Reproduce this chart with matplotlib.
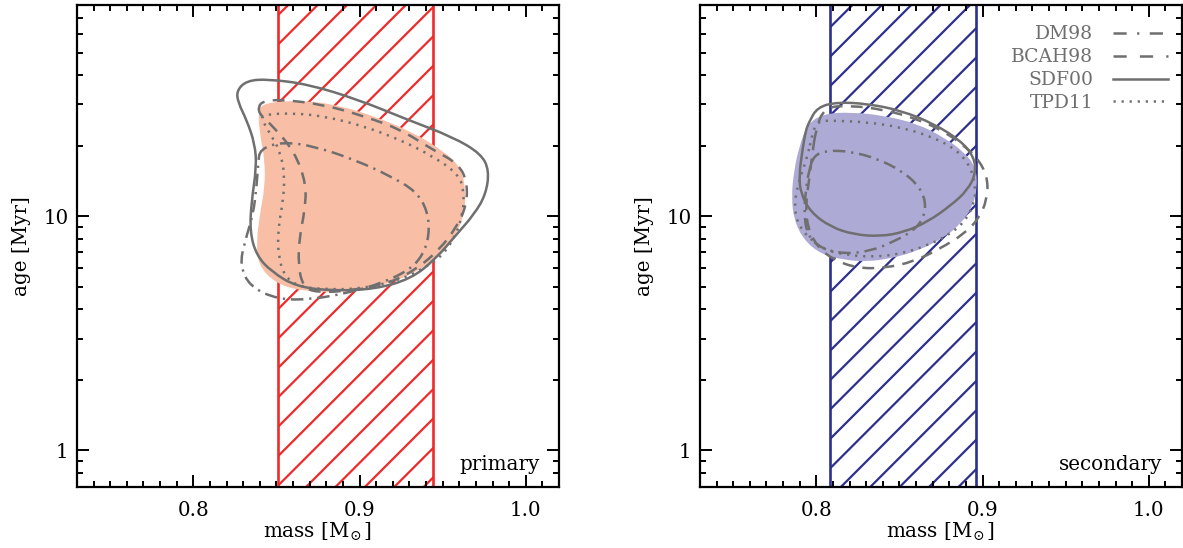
import numpy as np
import matplotlib
matplotlib.use("Agg")
import matplotlib.pyplot as plt
from matplotlib.path import Path
from matplotlib.patches import PathPatch
from matplotlib.lines import Line2D
from matplotlib.ticker import MultipleLocator, LogLocator, NullFormatter

plt.rcParams['font.family'] = ['DejaVu Serif']
plt.rcParams['mathtext.fontset'] = 'dejavuserif'
plt.rcParams['lines.scale_dashes'] = False

# ---------------- data ----------------
models = ["DM98", "BCAH98", "SDF00", "TPD11"]

# dynamical mass ranges (hatched bands)
primary_mass_range = (0.851, 0.944)
secondary_mass_range = (0.808, 0.896)

# primary: combined constraint (filled)
prim_fill_mass = [0.841, 0.853, 0.871, 0.889, 0.909, 0.931, 0.950, 0.961, 0.964, 0.963,
                  0.958, 0.946, 0.931, 0.911, 0.888, 0.864, 0.849, 0.839, 0.838, 0.840,
                  0.843, 0.843, 0.840, 0.839]
prim_fill_age = [30.0, 31.0, 31.0, 29.5, 26.7, 23.0, 19.1, 16.2, 12.8, 10.2,
                 8.3, 6.6, 5.6, 5.0, 4.72, 4.80, 5.2, 6.2, 7.8, 10.2,
                 13.3, 17.3, 22.6, 27.6]

# primary: model contours
prim_dm98_mass = [0.840, 0.854, 0.874, 0.898, 0.918, 0.934, 0.941, 0.942, 0.938, 0.930,
                  0.914, 0.894, 0.871, 0.851, 0.834, 0.828, 0.831, 0.836, 0.838, 0.839]
prim_dm98_age = [19.4, 20.8, 19.8, 17.3, 14.9, 12.8, 10.5, 8.3, 6.8, 5.9,
                 5.2, 4.72, 4.41, 4.41, 5.0, 6.2, 7.8, 10.2, 13.3, 16.7]

prim_bcah_mass = [0.839, 0.842, 0.853, 0.878, 0.903, 0.925, 0.943, 0.960, 0.965, 0.964,
                  0.958, 0.948, 0.935, 0.919, 0.894, 0.874, 0.866, 0.863, 0.864, 0.867,
                  0.868, 0.861, 0.848, 0.840]
prim_bcah_age = [29.3, 31.0, 31.5, 30.0, 26.7, 23.4, 19.4, 16.7, 13.7, 10.9,
                 8.9, 7.2, 6.0, 5.2, 4.8, 4.72, 5.0, 6.2, 8.3, 10.5,
                 13.7, 18.8, 24.2, 27.1]

prim_sdf_mass = [0.826, 0.832, 0.845, 0.869, 0.899, 0.929, 0.956, 0.973, 0.978, 0.976,
                 0.969, 0.958, 0.946, 0.931, 0.909, 0.884, 0.862, 0.847, 0.838, 0.834,
                 0.835, 0.838, 0.837, 0.832, 0.827]
prim_sdf_age = [34.3, 37.9, 38.5, 36.6, 31.5, 25.8, 21.8, 18.5, 15.7, 12.4,
                10.2, 8.3, 6.6, 5.4, 4.88, 4.80, 5.0, 5.8, 6.8, 8.6,
                11.6, 16.2, 20.4, 25.8, 30.5]

prim_tpd_mass = [0.841, 0.859, 0.879, 0.903, 0.925, 0.943, 0.960, 0.963, 0.962, 0.958,
                 0.950, 0.939, 0.923, 0.899, 0.878, 0.864, 0.855, 0.851, 0.851, 0.854,
                 0.855, 0.852, 0.846, 0.842]
prim_tpd_age = [27.1, 27.6, 26.7, 24.2, 21.1, 18.2, 15.1, 12.4, 10.2, 8.3,
                6.8, 6.0, 5.3, 4.88, 4.88, 5.0, 5.5, 6.8, 8.9, 11.6,
                15.1, 19.1, 22.6, 25.3]

# secondary: combined constraint (filled)
sec_fill_mass = [0.7896, 0.7946, 0.8046, 0.8207, 0.8407, 0.8608, 0.8768, 0.8889, 0.8959, 0.8969,
                 0.8939, 0.8869, 0.8768, 0.8608, 0.8447, 0.8307, 0.8166, 0.8026, 0.7926, 0.7866,
                 0.7850, 0.7866]
sec_fill_age = [19.7, 24.8, 27.4, 27.8, 26.9, 24.8, 21.7, 18.8, 16.2, 13.3,
                10.9, 9.3, 8.1, 7.1, 6.6, 6.4, 6.5, 6.9, 7.9, 9.6,
                12.1, 15.7]

# secondary: model contours
sec_dm98_mass = [0.7986, 0.8066, 0.8207, 0.8367, 0.8507, 0.8608, 0.8658, 0.8648, 0.8588, 0.8467,
                 0.8327, 0.8166, 0.8026, 0.7946, 0.7926, 0.7936, 0.7956]
sec_dm98_age = [18.2, 19.1, 18.9, 17.6, 15.7, 13.7, 11.7, 9.9, 8.7, 7.8,
                7.1, 6.9, 7.3, 8.3, 10.2, 12.9, 15.7]

sec_bcah_mass = [0.7996, 0.8046, 0.8207, 0.8407, 0.8608, 0.8768, 0.8899, 0.8989, 0.9033, 0.9025,
                 0.8979, 0.8889, 0.8748, 0.8588, 0.8407, 0.8247, 0.8106, 0.8006, 0.7946, 0.7936,
                 0.7956, 0.7976]
sec_bcah_age = [23.2, 29.2, 29.7, 28.5, 26.0, 23.0, 19.8, 17.0, 14.2, 11.7,
                9.8, 8.4, 7.3, 6.4, 6.0, 6.0, 6.5, 7.4, 9.0, 11.3,
                14.2, 18.5]

sec_sdf_mass = [0.7956, 0.8006, 0.8126, 0.8307, 0.8507, 0.8708, 0.8869, 0.8949, 0.8959, 0.8909,
                0.8808, 0.8668, 0.8527, 0.8386, 0.8226, 0.8086, 0.7966, 0.7906, 0.7896, 0.7916,
                0.7936]
sec_sdf_age = [25.2, 29.2, 30.7, 30.2, 28.3, 24.8, 21.0, 17.9, 15.2, 12.9,
               11.1, 9.45, 8.55, 8.2, 8.35, 9.0, 10.4, 12.5, 14.9, 19.1,
               23.2]

sec_tpd_mass = [0.7976, 0.8006, 0.8106, 0.8307, 0.8507, 0.8708, 0.8849, 0.8929, 0.8959, 0.8949,
                0.8899, 0.8808, 0.8668, 0.8507, 0.8347, 0.8207, 0.8066, 0.7966, 0.7886, 0.7866,
                0.7896, 0.7946]
sec_tpd_age = [22.5, 25.5, 25.6, 25.2, 24.0, 21.7, 19.1, 16.2, 13.3, 11.3,
               9.6, 8.4, 7.5, 6.9, 6.7, 6.8, 7.1, 7.9, 9.3, 11.3,
               14.2, 17.9]

xticks = [0.8, 0.9, 1.0]
xticklabels = ["0.8", "0.9", "1.0"]
yticks = [1, 10]
yticklabels = ["1", "10"]
panel_names = ["primary", "secondary"]

# ---------------- styles ----------------
GRAY = "#6f6f6f"
styles = {
    "DM98": (0, (9, 4.2, 1.6, 4.2)),
    "BCAH98": (0, (8.5, 6)),
    "SDF00": "-",
    "TPD11": (0, (1.6, 4.2)),
}
legend_styles = {
    "DM98": (0, (9.5, 7.5, 1.6, 7.5)),
    "BCAH98": (0, (9.5, 9.5)),
    "SDF00": "-",
    "TPD11": (0, (1.6, 4.2)),
}
FS = 14.3
FS_LEG = 13.5


def smooth_closed(mass, age):
    x = np.asarray(mass, float)
    ly = np.log10(np.asarray(age, float))
    xm = (x + np.roll(x, -1)) / 2
    ym = (ly + np.roll(ly, -1)) / 2
    verts = [(xm[-1], ym[-1])]
    codes = [Path.MOVETO]
    for i in range(len(x)):
        verts += [(x[i], ly[i]), (xm[i], ym[i])]
        codes += [Path.CURVE3, Path.CURVE3]
    verts = np.array(verts)
    verts[:, 1] = 10 ** verts[:, 1]
    return Path(verts, codes)


fig = plt.figure(figsize=(11.83, 5.48), dpi=100)
ax1 = fig.add_axes([77 / 1183, 61.3 / 548, 482 / 1183, 482 / 548])
ax2 = fig.add_axes([700 / 1183, 61.3 / 548, 482 / 1183, 482 / 548])

panels = [
    (ax1, primary_mass_range, "#ee2a2a", "#f8bea6",
     (prim_fill_mass, prim_fill_age),
     {"DM98": (prim_dm98_mass, prim_dm98_age), "BCAH98": (prim_bcah_mass, prim_bcah_age),
      "SDF00": (prim_sdf_mass, prim_sdf_age), "TPD11": (prim_tpd_mass, prim_tpd_age)}),
    (ax2, secondary_mass_range, "#2c2f8e", "#aeaad6",
     (sec_fill_mass, sec_fill_age),
     {"DM98": (sec_dm98_mass, sec_dm98_age), "BCAH98": (sec_bcah_mass, sec_bcah_age),
      "SDF00": (sec_sdf_mass, sec_sdf_age), "TPD11": (sec_tpd_mass, sec_tpd_age)}),
]

for (ax, mrange, hcol, fcol, fill, conts), name in zip(panels, panel_names):
    ax.set_yscale("log")
    ax.set_xlim(0.73, 1.02)
    ax.set_ylim(0.7, 80)

    # hatched band
    band = ax.axvspan(mrange[0], mrange[1], facecolor="none", edgecolor="none", zorder=1)
    for k in range(-20, 20):
        x0 = 0.0488 + 0.061 * k
        ln = Line2D([x0, x0 + 1.0], [0, 1], transform=ax.transAxes, color=hcol,
                    lw=1.6, zorder=1)
        ax.add_line(ln)
        ln.set_clip_path(band)
    for m in mrange:
        ax.axvline(m, color=hcol, lw=1.9, zorder=1.5)

    # combined fill
    ax.add_patch(PathPatch(smooth_closed(*fill), facecolor=fcol, edgecolor="none", zorder=2))

    # model contours
    for mod in models:
        mm, aa = conts[mod]
        ax.add_patch(PathPatch(smooth_closed(mm, aa), facecolor="none", edgecolor=GRAY,
                               lw=1.8, zorder=3, linestyle=styles[mod]))

    # ticks
    ax.set_xticks(xticks, labels=xticklabels)
    ax.xaxis.set_minor_locator(MultipleLocator(0.01))
    ax.set_yticks(yticks, labels=yticklabels)
    ax.yaxis.set_minor_locator(LogLocator(base=10, subs=np.arange(2, 10)))
    ax.yaxis.set_minor_formatter(NullFormatter())
    ax.tick_params(which="both", direction="in", top=True, right=True, width=1.4,
                   labelsize=FS, colors="black")
    ax.tick_params(which="major", length=8.5)
    ax.tick_params(which="minor", length=4)
    ax.tick_params(axis="x", pad=10)
    ax.tick_params(axis="y", pad=6)
    for sp in ax.spines.values():
        sp.set_linewidth(1.6)

    ax.set_xlabel(r"mass [M$_{\!\odot}$]", fontsize=FS, labelpad=1)
    ax.set_ylabel("age [Myr]", fontsize=FS, labelpad=9)
    ax.text(0.96, 0.035, name, transform=ax.transAxes, ha="right", va="baseline",
            fontsize=FS, zorder=5)

# legend on secondary panel
handles = [Line2D([], [], color=GRAY, lw=1.8, linestyle=legend_styles[m]) for m in models]
leg = ax2.legend(handles, models, loc="upper right", bbox_to_anchor=(0.97, 0.957),
                 frameon=False, markerfirst=False, fontsize=FS_LEG, handlelength=2.9,
                 handletextpad=1.05, labelspacing=0.26, borderaxespad=0.0, borderpad=0.0)
for t in leg.get_texts():
    t.set_color(GRAY)

fig.savefig("out.png", dpi=100)
